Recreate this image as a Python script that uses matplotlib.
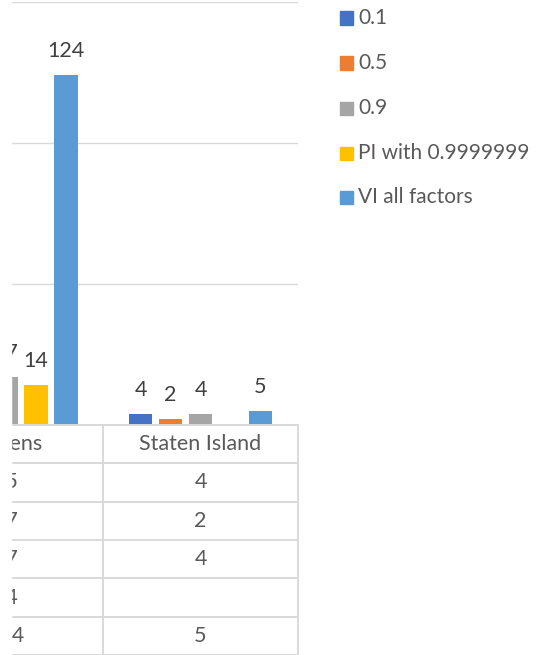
import matplotlib
matplotlib.use("Agg")
import matplotlib.pyplot as plt
from matplotlib.patches import Rectangle

plt.rcParams["font.family"] = ["Lato", "DejaVu Sans"]

# Data (the chart is cropped: only part of Queens is visible)
boroughs = ["Queens", "Staten Island"]
series_names = ["0.1", "0.5", "0.9", "PI with 0.9999999", "VI all factors"]
values = {
    "0.1": [15, 4],
    "0.5": [17, 2],
    "0.9": [17, 4],
    "PI with 0.9999999": [14, None],
    "VI all factors": [124, 5],
}
colors = ["#4472C4", "#ED7D31", "#A5A5A5", "#FFC000", "#5B9BD5"]
y_ticks = [0, 50, 100, 150]

W, H = 539, 655
fig = plt.figure(figsize=(W / 100, H / 100), dpi=100)

grid_col = "#D9D9D9"
label_col = "#404040"
text_col = "#595959"

# chart area in pixel terms, extends off the left edge
px_center0 = 6.0
px_step = 194.5
left_px = px_center0 - 0.5 * px_step
right_px = px_center0 + 1.5 * px_step
base_px = 425.0
top_px = 1.7
clip_px = 11  # the screenshot is cut here, left of it is blank

ax = fig.add_axes([left_px / W, (H - base_px) / H,
                   (right_px - left_px) / W, (base_px - top_px) / H])
ax.set_xlim(-0.5, 1.5)
ax.set_ylim(0, 150)
for s in ax.spines.values():
    s.set_visible(False)
ax.set_xticks([])
ax.set_yticks([])
for t in y_ticks[1:]:
    ax.axhline(t, color=grid_col, linewidth=1.0, zorder=0)

bar_w = 0.12
step = 0.154
for i, name in enumerate(series_names):
    for j, v in enumerate(values[name]):
        if v is None:
            continue
        x = j + (i - 2) * step
        ax.bar(x, v, width=bar_w, color=colors[i], zorder=2)
        ax.annotate(str(v), (x, v), xytext=(0, 13), textcoords="offset points",
                    ha="center", va="baseline", fontsize=15.5, color=label_col,
                    annotation_clip=False)

# data table under the chart
n_rows = len(series_names) + 1
tab = fig.add_axes([left_px / W, 0, (right_px - left_px) / W, (H - base_px) / H])
tab.set_xlim(-0.5, 1.5)
tab.set_ylim(n_rows, 0)
tab.axis("off")
for r in range(n_rows + 1):
    tab.plot([-1.5, 1.5], [r, r], color=grid_col, linewidth=1.4, clip_on=False)
for xb in [-0.5, 0.5, 1.5]:
    tab.plot([xb, xb], [0, n_rows], color=grid_col, linewidth=1.4, clip_on=False)
for j, b in enumerate(boroughs):
    tab.text(j, 0.5, b, ha="center", va="center", fontsize=15.5, color=text_col)
    for i, name in enumerate(series_names):
        v = values[name][j]
        if v is not None:
            tab.text(j, i + 1.5, str(v), ha="center", va="center",
                     fontsize=15.5, color=text_col)

# blank strip at the cut edge
fig.add_artist(Rectangle((0, 0), clip_px / W, 1, transform=fig.transFigure,
                         color="white", zorder=10))

# legend on the right
leg_y = [18, 63, 108, 153, 197]
for name, c, yp in zip(series_names, colors, leg_y):
    fig.add_artist(Rectangle((340 / W, 1 - (yp + 6.5) / H), 13 / W, 13 / H,
                             transform=fig.transFigure, color=c))
    fig.text(358 / W, 1 - yp / H, name, ha="left", va="center",
             fontsize=15, color=text_col)

fig.savefig("out.png", dpi=100)
